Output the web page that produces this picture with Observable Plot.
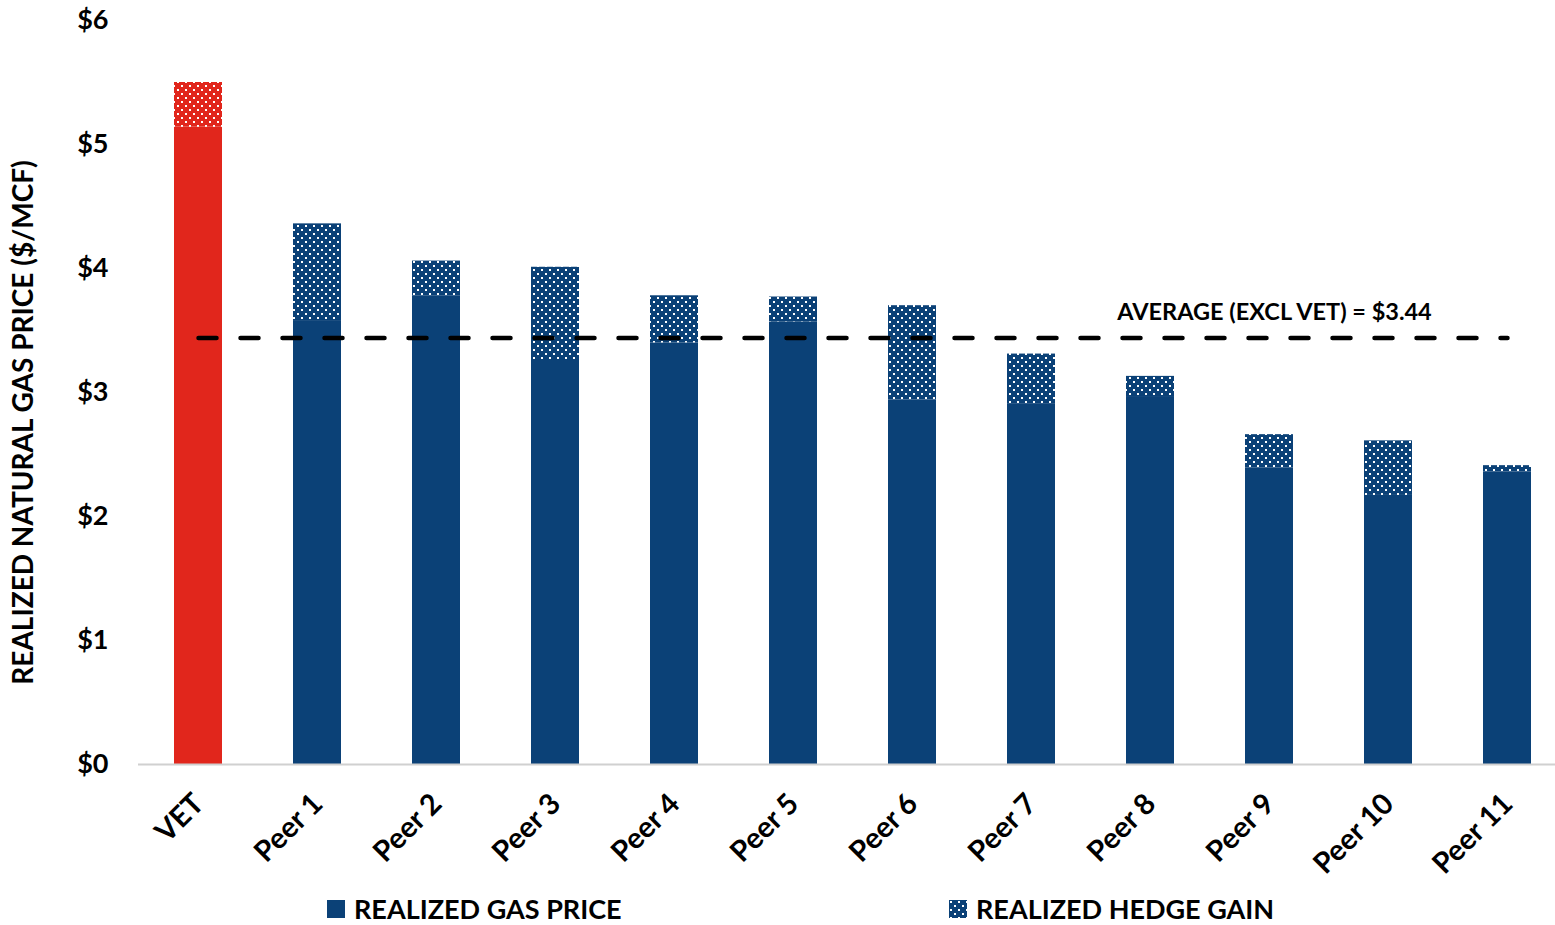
<!DOCTYPE html>
<html>
<head>
<meta charset="utf-8">
<script src="https://cdn.jsdelivr.net/npm/d3@7"></script>
<script src="https://cdn.jsdelivr.net/npm/@observablehq/plot@0.6"></script>
<style>
  html, body { margin: 0; padding: 0; background: #fff; overflow: hidden; }
  body { width: 1555px; height: 925px; position: relative; font-family: Lato, "Open Sans", sans-serif; font-weight: 700; }
  #legend { position: absolute; top: 893px; left: 0; width: 1555px; height: 32px; }
  .item { position: absolute; top: 0; display: flex; align-items: center; font-size: 27px; color: #000; line-height: 32px; }
  .item svg { margin-right: 9px; }
</style>
</head>
<body>
<div id="chart"></div>
<div id="legend"></div>
<script>
// ---- data ----
const companies = ["VET", "Peer 1", "Peer 2", "Peer 3", "Peer 4", "Peer 5", "Peer 6", "Peer 7", "Peer 8", "Peer 9", "Peer 10", "Peer 11"];
const gasPrice  = [5.14, 3.58, 3.78, 3.25, 3.40, 3.57, 2.94, 2.91, 2.96, 2.39, 2.17, 2.36];
const hedgeGain = [0.36, 0.78, 0.28, 0.76, 0.38, 0.20, 0.76, 0.40, 0.17, 0.27, 0.44, 0.05];
const averageExVet = 3.44;
const averageLabel = "AVERAGE (EXCL VET) = $3.44";
const yTicks = [0, 1, 2, 3, 4, 5, 6];
const yTitle = "REALIZED NATURAL GAS PRICE ($/MCF)";
const seriesNames = ["REALIZED GAS PRICE", "REALIZED HEDGE GAIN"];
const highlight = "VET";

const BLUE = "#0B4177";
const RED = "#E1261C";
const FONT = "Lato, 'Open Sans', sans-serif";

const rows = companies.map((c, i) => ({
  company: c,
  gas: gasPrice[i],
  hedge: hedgeGain[i],
  top: gasPrice[i] + hedgeGain[i]
}));
const vetRows = rows.filter(d => d.company === highlight);
const peerRows = rows.filter(d => d.company !== highlight);

function patternDefs() {
  const ns = "http://www.w3.org/2000/svg";
  const g = document.createElementNS(ns, "g");
  const defs = document.createElementNS(ns, "defs");
  for (const [id, col] of [["dotsBlue", BLUE], ["dotsRed", RED]]) {
    const p = document.createElementNS(ns, "pattern");
    p.setAttribute("id", id);
    p.setAttribute("width", 8);
    p.setAttribute("height", 8);
    p.setAttribute("patternUnits", "userSpaceOnUse");
    const bg = document.createElementNS(ns, "rect");
    bg.setAttribute("width", 8); bg.setAttribute("height", 8); bg.setAttribute("fill", col);
    p.appendChild(bg);
    for (const [x, y] of [[1, 1], [5, 5]]) {
      const r = document.createElementNS(ns, "rect");
      r.setAttribute("x", x); r.setAttribute("y", y);
      r.setAttribute("width", 2); r.setAttribute("height", 2);
      r.setAttribute("fill", "#fff");
      p.appendChild(r);
    }
    defs.appendChild(p);
  }
  g.appendChild(defs);
  return g;
}

const chart = Plot.plot({
  width: 1555,
  height: 880,
  marginLeft: 138,
  marginRight: 0,
  marginTop: 20,
  marginBottom: 116,
  style: { fontFamily: FONT, background: "#fff", overflow: "visible" },
  x: { domain: companies, range: [138, 1567.5], paddingInner: 0.6, paddingOuter: 0.3, axis: null },
  y: { domain: [0, 6], axis: null },
  marks: [
    patternDefs,
    // solid gas price bars
    Plot.barY(peerRows, { x: "company", y1: 0, y2: "gas", fill: BLUE }),
    Plot.barY(vetRows, { x: "company", y1: 0, y2: "gas", fill: RED }),
    // hedge gain bars (dotted)
    Plot.barY(peerRows, { x: "company", y1: "gas", y2: "top", fill: "url(#dotsBlue)" }),
    Plot.barY(vetRows, { x: "company", y1: "gas", y2: "top", fill: "url(#dotsRed)" }),
    // baseline
    Plot.ruleY([0], { stroke: "#d0d0d0", strokeWidth: 2 }),
    // y tick labels
    Plot.axisY({ ticks: yTicks, tickSize: 0, tickPadding: 30, tickFormat: d => "$" + d, fontSize: 27, fontWeight: "bold", label: null, textAnchor: "end" }),
    // y title
    Plot.text([yTitle], { frameAnchor: "left", textAnchor: "middle", dx: -114, dy: 30, rotate: -90, fontSize: 28, fontWeight: "bold", fill: "#000", text: d => d }),
    // x labels
    Plot.text(companies, { x: d => d, y: () => 0, dx: 7, dy: 41, rotate: -45, textAnchor: "end", lineAnchor: "bottom", fontSize: 29, fontWeight: "bold", fill: "#000", text: d => d }),
    // average line
    Plot.lineY([companies[0], companies[companies.length - 1]], { x: d => d, y: () => averageExVet, stroke: "#000", strokeWidth: 4.5, strokeDasharray: "18,24", strokeLinecap: "round" }),
    Plot.text([averageLabel], { x: () => "Peer 9", y: () => averageExVet, dx: 5, dy: -25, fontSize: 23.5, fontWeight: "bold", fill: "#000", text: d => d })
  ]
});
document.getElementById("chart").appendChild(chart);

// legend
const legend = document.getElementById("legend");
const legendItems = [
  { name: seriesNames[0], left: 327, fill: BLUE },
  { name: seriesNames[1], left: 949, fill: "url(#legDots)" }
];
for (const it of legendItems) {
  const div = document.createElement("div");
  div.className = "item";
  div.style.left = it.left + "px";
  div.innerHTML = `<svg width="18" height="18"><defs><pattern id="legDots" width="8" height="8" patternUnits="userSpaceOnUse"><rect width="8" height="8" fill="${BLUE}"/><rect x="1" y="1" width="2" height="2" fill="#fff"/><rect x="5" y="5" width="2" height="2" fill="#fff"/></pattern></defs><rect width="18" height="18" fill="${it.fill}"/></svg><span>${it.name}</span>`;
  legend.appendChild(div);
}
</script>
</body>
</html>
